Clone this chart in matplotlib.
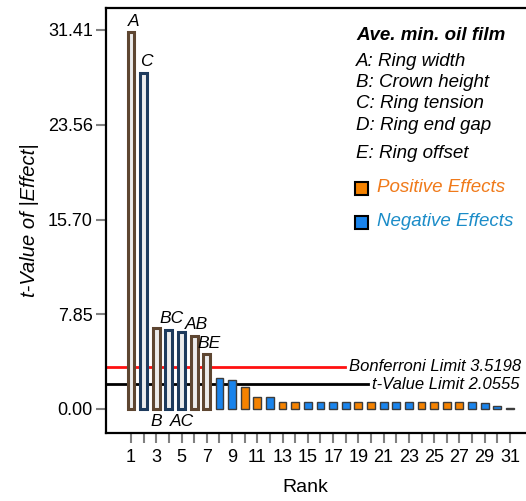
import numpy as np
import matplotlib
matplotlib.use("Agg")
import matplotlib.pyplot as plt
from matplotlib.patches import Rectangle

plt.rcParams['font.family'] = ['Liberation Sans', 'DejaVu Sans']

# t-values of |effect| by rank
ranks = np.arange(1, 32)
t_values = [31.2, 27.85, 6.74, 6.55, 6.41, 6.05, 4.53, 2.60, 2.38, 1.80,
            1.02, 0.99, 0.62, 0.61, 0.60, 0.60, 0.59, 0.59, 0.58, 0.58,
            0.57, 0.57, 0.56, 0.56, 0.55, 0.55, 0.54, 0.54, 0.52, 0.27, 0.08]
signs = ['P', 'N', 'P', 'N', 'N', 'P', 'P', 'N', 'N', 'P',
         'P', 'N', 'P', 'P', 'N', 'N', 'N', 'N', 'P', 'P',
         'N', 'N', 'N', 'P', 'P', 'P', 'P', 'N', 'N', 'N', 'P']
effect_names = ['A', 'C', 'B', 'BC', 'AC', 'AB', 'BE']
name_side = ['up', 'up', 'down', 'up', 'down', 'up', 'up']

bonferroni = 3.5198
t_limit = 2.0555
y_ticks = [0.00, 7.85, 15.70, 23.56, 31.41]

factors = ['A: Ring width', 'B: Crown height', 'C: Ring tension',
           'D: Ring end gap', 'E: Ring offset']

W, H = 526, 501
fig = plt.figure(figsize=(W / 100, H / 100), dpi=100)
ax = fig.add_axes([106 / W, (H - 433) / H, 436 / W, 425 / H])

fill_col = {'P': '#f58200', 'N': '#1a84ec'}
hollow_edge = {'P': '#5e4631', 'N': '#1d3a5c'}

for r, v, s in zip(ranks, t_values, signs):
    if v > bonferroni:
        ax.bar(r, v, width=0.55, color='#ececec', edgecolor=hollow_edge[s],
               linewidth=2.2, zorder=3)
    else:
        ax.bar(r, v, width=0.62, color=fill_col[s], edgecolor='#3c3c3c',
               linewidth=1.0, zorder=3)

for i, name in enumerate(effect_names):
    if name_side[i] == 'up':
        ax.annotate(name, (ranks[i], t_values[i]), xytext=(2, 8),
                    textcoords='offset points', ha='center', va='center',
                    fontsize=12.5, style='italic')
    else:
        ax.annotate(name, (ranks[i], 0), xytext=(0, -9),
                    textcoords='offset points', ha='center', va='center',
                    fontsize=12.5, style='italic')

ax.axhline(bonferroni, xmax=0.548, color='#ff1010', linewidth=2, zorder=2)
ax.axhline(t_limit, xmax=0.601, color='black', linewidth=2, zorder=2)
ax.text(0.557, bonferroni, 'Bonferroni Limit %.4f' % bonferroni,
        transform=ax.get_yaxis_transform(), va='center', ha='left',
        fontsize=12, style='italic')
ax.text(0.61, t_limit, 't-Value Limit %.4f' % t_limit,
        transform=ax.get_yaxis_transform(), va='center', ha='left',
        fontsize=12, style='italic')

ax.set_xlim(-0.98, 33.54)
ax.set_ylim(-1.99, 33.23)
ax.set_xticks(ranks)
ax.set_xticklabels([str(r) if r % 2 == 1 else '' for r in ranks])
ax.set_yticks(y_ticks)
ax.set_yticklabels(['%.2f' % t for t in y_ticks])
ax.tick_params(axis='both', colors='#808080', labelcolor='black',
               width=1.5, length=7.5, labelsize=13)
ax.tick_params(axis='x', pad=4)
ax.tick_params(axis='y', pad=2)
for sp in ax.spines.values():
    sp.set_linewidth(1.6)

ax.set_xlabel('Rank', fontsize=14)
ax.xaxis.set_label_coords((305 - 106) / 436, (433 - 488) / 425)
ax.xaxis.label.set_va('center')
ax.set_ylabel('t-Value of |Effect|', fontsize=14.5, style='italic')
ax.yaxis.set_label_coords((30 - 106) / 436, (433 - 220) / 425)
ax.yaxis.label.set_va('center')

# side legend
fig.text(356 / W, 1 - 35 / H, 'Ave. min. oil film', fontsize=13.5,
         style='italic', weight='bold', va='center')
for i, f in enumerate(factors):
    yy = [61, 83, 104, 126, 153][i]
    fig.text(356 / W, 1 - yy / H, f, fontsize=13.5, style='italic', va='center')

for yy, s, lab, tc in [(188, 'P', 'Positive Effects', '#f07a1a'),
                       (222, 'N', 'Negative Effects', '#1b8cc8')]:
    fig.patches.append(Rectangle((355 / W, 1 - (yy + 7) / H), 13 / W, 13 / H,
                                 transform=fig.transFigure,
                                 facecolor=fill_col[s], edgecolor='black',
                                 linewidth=1.5))
    fig.text(377 / W, 1 - yy / H, lab, fontsize=13.5, style='italic',
             color=tc, va='center')

fig.savefig('out.png', dpi=100)
